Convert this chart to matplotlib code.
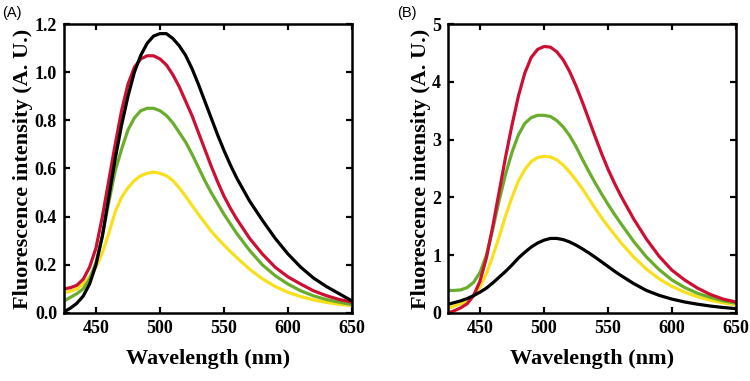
import numpy as np
import matplotlib
matplotlib.use("Agg")
import matplotlib.pyplot as plt

# wavelength grid (nm)
wl = [425, 430, 435, 440, 445, 450, 455, 460, 465, 470, 475, 480, 485, 490,
      495, 500, 505, 510, 515, 520, 525, 530, 535, 540, 545, 550, 555, 560,
      570, 580, 590, 600, 610, 620, 630, 640, 650]

# panel A
a_black = [0.005, 0.02, 0.04, 0.07, 0.12, 0.20, 0.32, 0.48, 0.64, 0.78, 0.90, 1.00, 1.07, 1.12,
           1.15, 1.16, 1.16, 1.14, 1.11, 1.07, 1.015, 0.95, 0.88, 0.81, 0.74, 0.675, 0.615, 0.56,
           0.465, 0.385, 0.31, 0.245, 0.19, 0.145, 0.11, 0.08, 0.05]
a_red = [0.10, 0.105, 0.115, 0.14, 0.19, 0.27, 0.40, 0.55, 0.70, 0.84, 0.95, 1.02, 1.055, 1.068,
         1.068, 1.055, 1.03, 0.99, 0.94, 0.88, 0.82, 0.75, 0.68, 0.61, 0.545, 0.485, 0.435, 0.39,
         0.31, 0.245, 0.19, 0.15, 0.12, 0.092, 0.072, 0.056, 0.045]
a_green = [0.05, 0.065, 0.08, 0.10, 0.14, 0.21, 0.32, 0.46, 0.59, 0.68, 0.76, 0.81, 0.84, 0.85,
           0.85, 0.84, 0.82, 0.79, 0.75, 0.71, 0.66, 0.605, 0.55, 0.50, 0.455, 0.41, 0.37, 0.33,
           0.26, 0.20, 0.155, 0.12, 0.092, 0.071, 0.056, 0.045, 0.035]
a_yellow = [0.085, 0.09, 0.10, 0.12, 0.15, 0.19, 0.25, 0.33, 0.42, 0.48, 0.52, 0.55, 0.57, 0.58,
            0.585, 0.58, 0.57, 0.55, 0.52, 0.485, 0.447, 0.41, 0.375, 0.34, 0.31, 0.282, 0.255, 0.23,
            0.182, 0.142, 0.11, 0.086, 0.068, 0.054, 0.044, 0.036, 0.03]

# panel B
b_black = [0.15, 0.18, 0.21, 0.25, 0.30, 0.36, 0.43, 0.52, 0.62, 0.72, 0.83, 0.95, 1.05, 1.14,
           1.21, 1.26, 1.29, 1.29, 1.27, 1.23, 1.175, 1.11, 1.04, 0.965, 0.885, 0.805, 0.725, 0.65,
           0.51, 0.39, 0.305, 0.24, 0.19, 0.152, 0.12, 0.095, 0.075]
b_red = [0.0, 0.04, 0.09, 0.16, 0.30, 0.55, 0.95, 1.50, 2.10, 2.70, 3.25, 3.75, 4.15, 4.42,
         4.56, 4.61, 4.60, 4.52, 4.38, 4.18, 3.93, 3.65, 3.35, 3.05, 2.76, 2.49, 2.25, 2.03,
         1.63, 1.28, 0.98, 0.74, 0.57, 0.43, 0.32, 0.24, 0.19]
b_green = [0.39, 0.39, 0.40, 0.44, 0.53, 0.70, 1.00, 1.45, 1.95, 2.40, 2.78, 3.08, 3.28, 3.38,
           3.42, 3.42, 3.40, 3.33, 3.22, 3.07, 2.88, 2.66, 2.45, 2.25, 2.06, 1.88, 1.71, 1.55,
           1.24, 0.97, 0.75, 0.57, 0.44, 0.34, 0.27, 0.21, 0.17]
b_yellow = [0.08, 0.12, 0.16, 0.21, 0.30, 0.45, 0.68, 0.98, 1.32, 1.68, 2.00, 2.28, 2.48, 2.62,
            2.69, 2.71, 2.70, 2.65, 2.56, 2.44, 2.30, 2.15, 1.98, 1.81, 1.65, 1.50, 1.36, 1.22,
            0.97, 0.76, 0.59, 0.46, 0.36, 0.28, 0.22, 0.175, 0.14]

colors = {"black": "#000000", "red": "#cc1034", "green": "#6aad2c", "yellow": "#f8e11c"}

plt.rcParams["font.family"] = ["Liberation Serif", "DejaVu Serif"]
plt.rcParams["font.weight"] = "bold"

fig = plt.figure(figsize=(7.5, 3.81), dpi=100)
axA = fig.add_axes([0.0853, 0.1785, 0.384, 0.7585])
axB = fig.add_axes([0.5973, 0.1785, 0.384, 0.7585])

panels = [
    (axA, [a_black, a_red, a_green, a_yellow], 1.2, np.arange(0, 1.21, 0.2), "(A)", 0.003),
    (axB, [b_black, b_red, b_green, b_yellow], 5, np.arange(0, 6, 1), "(B)", 0.530),
]

for ax, series, ymax, yt, tag, tx in panels:
    order = [("yellow", 3), ("green", 2), ("red", 1), ("black", 0)]
    for name, i in order:
        ax.plot(wl, series[i], color=colors[name], lw=2.3, solid_capstyle="round",
                solid_joinstyle="round")
    ax.set_xlim(425, 650)
    ax.set_ylim(0, ymax)
    ax.set_xticks([450, 500, 550, 600, 650])
    ax.set_yticks(yt)
    if ymax < 2:
        ax.set_yticklabels(["%.1f" % v for v in yt])
    else:
        ax.set_yticklabels(["%d" % v for v in yt])
    ax.tick_params(direction="in", length=4, width=1.6, top=True, right=True,
                   labelsize=13, pad=5)
    for lab in ax.get_xticklabels() + ax.get_yticklabels():
        lab.set_fontweight("bold")
    for sp in ax.spines.values():
        sp.set_linewidth(1.8)
    ax.set_xlabel("Wavelength (nm)", fontsize=16, fontweight="bold", labelpad=9)
    ax.set_ylabel("Fluorescence intensity (A. U.)", fontsize=16, fontweight="bold", labelpad=1)
    fig.text(tx, 0.985, tag, fontsize=10.5, fontweight="normal", va="top",
             family=["Liberation Sans", "DejaVu Sans"])

fig.savefig("out.png", dpi=100)
